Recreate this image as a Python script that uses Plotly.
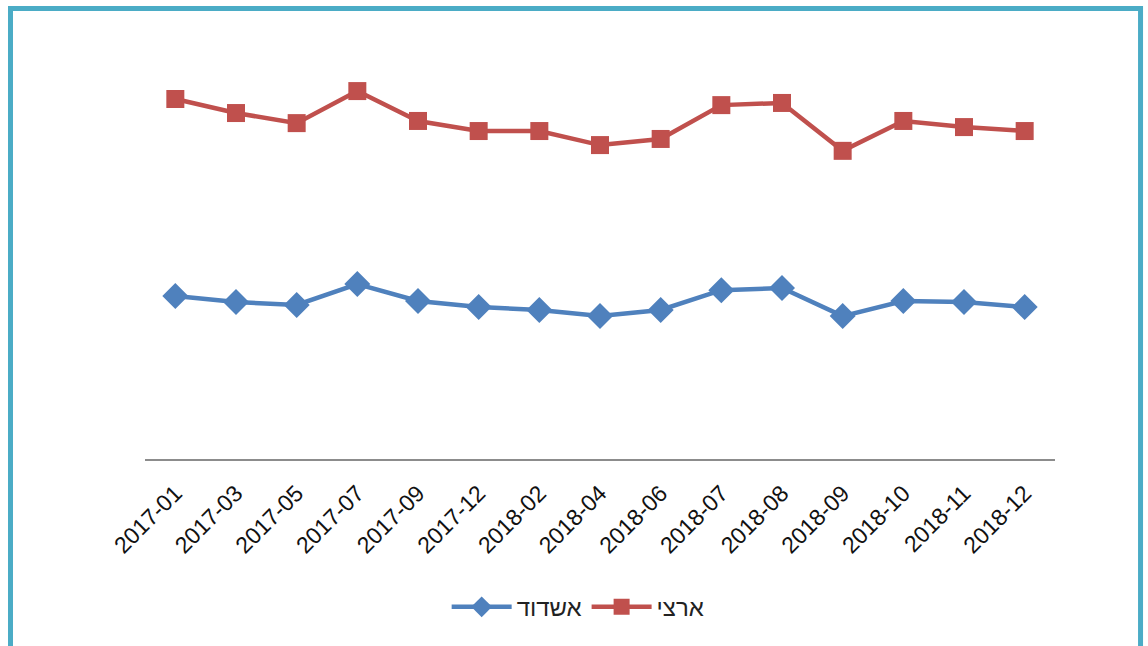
import plotly.graph_objects as go

# category labels along the x axis
months = ["2017-01", "2017-03", "2017-05", "2017-07", "2017-09", "2017-12",
          "2018-02", "2018-04", "2018-06", "2018-07", "2018-08", "2018-09",
          "2018-10", "2018-11", "2018-12"]

# series values (arbitrary units — no y axis shown)
ashdod = [45.3, 43.6, 42.8, 48.6, 43.9, 42.2, 41.4, 39.7, 41.4, 46.9, 47.5, 39.7, 43.9, 43.6, 42.2]
national = [100.0, 96.1, 93.3, 102.2, 93.9, 91.1, 91.1, 87.2, 88.9, 98.3, 98.9, 85.6, 93.9, 92.2, 91.1]

BLUE = "#4F81BD"
RED = "#C0504D"
FRAME = "#4BACC6"
FONT = "Liberation Sans, Arial, sans-serif"

fig = go.Figure()
fig.add_trace(go.Scatter(x=months, y=ashdod, name="אשדוד", mode="lines+markers",
    line=dict(color=BLUE, width=4.5),
    marker=dict(symbol="diamond", size=20, color=BLUE)))
fig.add_trace(go.Scatter(x=months, y=national, name="ארצי", mode="lines+markers",
    line=dict(color=RED, width=4.5),
    marker=dict(symbol="square", size=18, color=RED)))

# outer teal frame around the whole chart
fig.add_shape(type="rect", xref="paper", yref="paper",
    x0=-0.1478, x1=1.094, y0=-0.47, y1=1.0428,
    line=dict(color=FRAME, width=5), fillcolor="rgba(0,0,0,0)", layer="below")

fig.update_layout(
    width=1148, height=646,
    margin=dict(l=145, r=93, t=27, b=187),
    paper_bgcolor="white", plot_bgcolor="white",
    font=dict(family=FONT, color="#222", size=22),
    showlegend=True,
    legend=dict(orientation="h", x=0.476, xanchor="center", y=-0.343, yanchor="middle",
        font=dict(size=24, color="#222"), itemwidth=60, traceorder="normal"),
)
fig.update_xaxes(type="category", range=[-0.5, 14.5], showgrid=False,
    showline=True, linecolor="#8c8c8c", linewidth=1.5,
    ticks="", tickangle=-45, tickfont=dict(size=23, color="#111"),
    ticklabelstandoff=10)
fig.update_yaxes(range=[0, 120], showgrid=False, showline=False,
    showticklabels=False, zeroline=False)

# drop the default page margin and scrollbars so the figure fills the window
fig.write_html("out.html", config={"displayModeBar": False}, post_script=(
    "document.body.style.margin='0';"
    "document.documentElement.style.overflow='hidden';"))
